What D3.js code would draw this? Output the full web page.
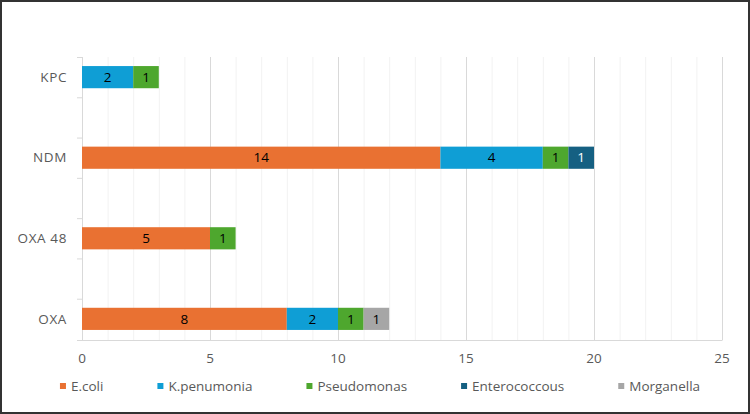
<!DOCTYPE html>
<html>
<head>
<meta charset="utf-8">
<script src="https://cdn.jsdelivr.net/npm/d3@7"></script>
<style>
  html, body { margin: 0; padding: 0; background: #fff; }
  svg { display: block; font-family: "Open Sans", "Noto Sans", sans-serif; }
</style>
</head>
<body>
<div id="chart"></div>
<script>
// Data
//////////////////////////////////////////////////////////////////////
// categories from top to bottom; blank rows are empty categories in the sheet
var categories = ["KPC", "", "NDM", "", "OXA 48", "", "OXA"];
var seriesNames = ["E.coli", "K.penumonia", "Pseudomonas", "Enterococcous", "Morganella"];
var ecoli        = [0, 0, 14, 0, 5, 0, 8];
var kpenumonia   = [2, 0, 4, 0, 0, 0, 2];
var pseudomonas  = [1, 0, 1, 0, 1, 0, 1];
var enterococcus = [0, 0, 1, 0, 0, 0, 0];
var morganella   = [0, 0, 0, 0, 0, 0, 1];
var xTicks = [0, 5, 10, 15, 20, 25];

var colors = ["#E97132", "#0F9ED5", "#4EA72E", "#156082", "#A6A6A6"];
var labelColors = ["#000", "#000", "#000", "#fff", "#000"];
var fontSize = 13.5;

// Layout
//////////////////////////////////////////////////////////////////////
var width = 750, height = 414;
var margin = { top: 57, right: 28, bottom: 75, left: 82 };

var rows = categories.map(function (c, i) {
  return { idx: i, name: c, "E.coli": ecoli[i], "K.penumonia": kpenumonia[i],
    "Pseudomonas": pseudomonas[i], "Enterococcous": enterococcus[i], "Morganella": morganella[i] };
});

var stack = d3.stack().keys(seriesNames)(rows);

var x = d3.scaleLinear().domain([0, 25]).range([margin.left, width - margin.right]);
var y = d3.scaleBand().domain(d3.range(categories.length))
  .range([margin.top, height - margin.bottom]).paddingInner(0.45).paddingOuter(0.225);

var svg = d3.select("#chart").append("svg")
  .attr("width", width).attr("height", height);

svg.append("rect").attr("width", width).attr("height", height).attr("fill", "#fff");

// gridlines: minor at every unit, major at every 5
var y0 = margin.top, y1 = height - margin.bottom + 1;
svg.append("g").selectAll("line")
  .data(d3.range(1, 26).filter(function (v) { return v % 5 !== 0; }))
  .join("line")
  .attr("x1", function (d) { return x(d) + 0.5; }).attr("x2", function (d) { return x(d) + 0.5; })
  .attr("y1", y0).attr("y2", y1)
  .attr("stroke", "#F2F2F2").attr("stroke-width", 1);
svg.append("g").selectAll("line")
  .data(xTicks.slice(1))
  .join("line")
  .attr("x1", function (d) { return x(d) + 0.5; }).attr("x2", function (d) { return x(d) + 0.5; })
  .attr("y1", y0).attr("y2", y1)
  .attr("stroke", "#D9D9D9").attr("stroke-width", 1);

// y axis line and tick marks at category boundaries
var axisG = svg.append("g").attr("stroke", "#D9D9D9").attr("stroke-width", 1);
axisG.append("line")
  .attr("x1", x(0) + 0.5).attr("x2", x(0) + 0.5).attr("y1", y0).attr("y2", y1);
var step = y.step();
axisG.selectAll("line.tk")
  .data(d3.range(categories.length))
  .join("line").attr("class", "tk")
  .attr("x1", x(0) - 5).attr("x2", x(0))
  .attr("y1", function (d) { return y(d) - y.paddingOuter() * step + 0.5; })
  .attr("y2", function (d) { return y(d) - y.paddingOuter() * step + 0.5; });
// x axis line
axisG.append("line")
  .attr("x1", x(0) - 5).attr("x2", x(25) + 0.5).attr("y1", y1 + 0.5).attr("y2", y1 + 0.5);

// category labels
svg.append("g").selectAll("text")
  .data(categories)
  .join("text")
  .attr("x", x(0) - 15)
  .attr("y", function (d, i) { return y(i) + y.bandwidth() / 2; })
  .attr("dy", "0.35em")
  .attr("text-anchor", "end")
  .attr("font-size", fontSize)
  .attr("letter-spacing", "0.6px")
  .attr("fill", "#595959")
  .text(function (d) { return d; });

// x tick labels
svg.append("g").selectAll("text")
  .data(xTicks)
  .join("text")
  .attr("x", function (d) { return x(d); })
  .attr("y", y1 + 23)
  .attr("text-anchor", "middle")
  .attr("font-size", fontSize)
  .attr("fill", "#595959")
  .text(function (d) { return d; });

// bars
var layers = svg.append("g").selectAll("g")
  .data(stack)
  .join("g")
  .attr("fill", function (d, i) { return colors[i]; });

layers.selectAll("rect")
  .data(function (d) { return d.filter(function (s) { return s[1] - s[0] > 0; }); })
  .join("rect")
  .attr("x", function (d) { return x(d[0]); })
  .attr("y", function (d) { return y(d.data.idx); })
  .attr("width", function (d) { return x(d[1]) - x(d[0]); })
  .attr("height", y.bandwidth());

layers.each(function (layer, li) {
  d3.select(this).selectAll("text")
    .data(layer.filter(function (s) { return s[1] - s[0] > 0; }))
    .join("text")
    .attr("x", function (d) { return (x(d[0]) + x(d[1])) / 2; })
    .attr("y", function (d) { return y(d.data.idx) + y.bandwidth() / 2; })
    .attr("dy", "0.35em")
    .attr("text-anchor", "middle")
    .attr("font-size", fontSize)
    .attr("fill", labelColors[li])
    .text(function (d) { return d[1] - d[0]; });
});

// legend, items laid out by text length and centred
var legend = svg.append("g");
var items = legend.selectAll("g")
  .data(seriesNames)
  .join("g");
items.append("rect")
  .attr("width", 6).attr("height", 6)
  .attr("y", -3)
  .attr("fill", function (d, i) { return colors[i]; });
items.append("text")
  .attr("x", 11)
  .attr("dy", "0.35em")
  .attr("font-size", fontSize)
  .attr("fill", "#595959")
  .text(function (d) { return d; });

var gap = 54, pos = 0, offsets = [];
items.each(function () {
  offsets.push(pos);
  pos += 11 + this.querySelector("text").getComputedTextLength() + gap;
});
var total = pos - gap;
var startX = 380 - total / 2;
items.attr("transform", function (d, i) { return "translate(" + (startX + offsets[i]) + "," + 386 + ")"; });

// outer border
svg.append("rect")
  .attr("x", 1).attr("y", 1).attr("width", width - 2).attr("height", height - 2)
  .attr("fill", "none").attr("stroke", "#333").attr("stroke-width", 2);
</script>
</body>
</html>
